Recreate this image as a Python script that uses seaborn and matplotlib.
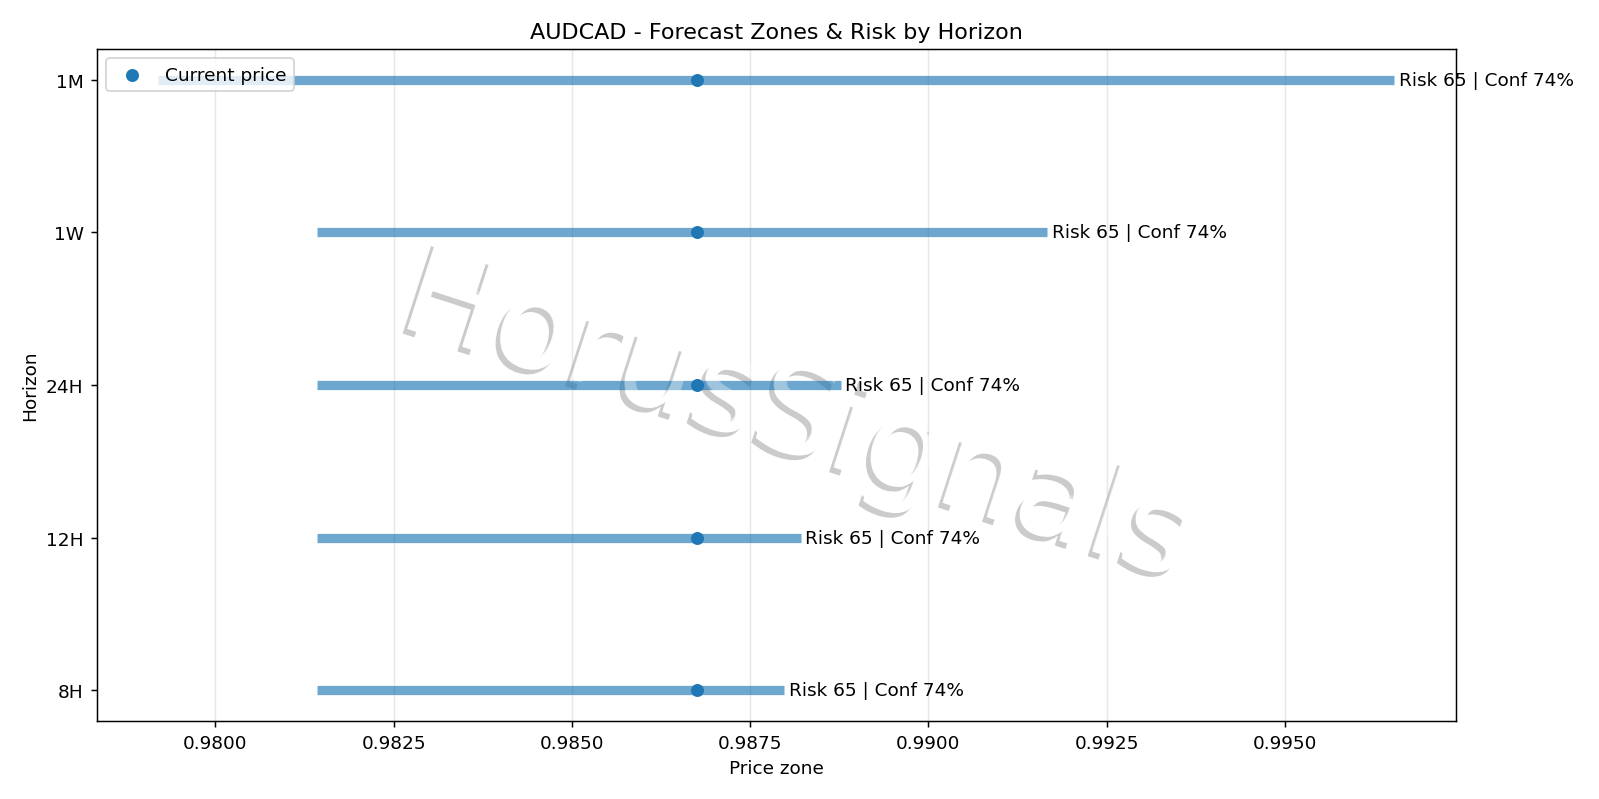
import matplotlib
matplotlib.use("Agg")
import matplotlib.pyplot as plt
import matplotlib.patheffects as pe
import seaborn as sns
import pandas as pd

# ---- data ----
horizons = ["8H", "12H", "24H", "1W", "1M"]
zone_low = [0.98143, 0.98143, 0.98143, 0.98143, 0.97920]
zone_high = [0.98798, 0.98821, 0.98877, 0.99167, 0.99653]
current_price = [0.98675, 0.98675, 0.98675, 0.98675, 0.98675]
risk = [65, 65, 65, 65, 65]
conf = [74, 74, 74, 74, 74]
title = "AUDCAD - Forecast Zones & Risk by Horizon"
watermark = "HorusSignals"

df = pd.DataFrame({
    "horizon": horizons,
    "low": zone_low,
    "high": zone_high,
    "price": current_price,
    "risk": risk,
    "conf": conf,
})

blue = "#1f77b4"

fig, ax = plt.subplots(figsize=(12, 6), dpi=133.333)
fig.subplots_adjust(left=0.0604, right=0.9098, bottom=0.0975, top=0.9375)

# zones
ax.hlines(df["horizon"], df["low"], df["high"], color=blue, alpha=0.65,
          linewidth=5, zorder=2)

# current price dots
sns.scatterplot(data=df, x="price", y="horizon", color=blue, s=36,
                edgecolor=blue, linewidth=1, label="Current price",
                zorder=3, ax=ax)

# keep the first horizon at the bottom
if ax.yaxis_inverted():
    ax.invert_yaxis()

# risk/conf labels
for h, hi, r, c in zip(df["horizon"], df["high"], df["risk"], df["conf"]):
    ax.annotate(f"Risk {r} | Conf {c}%", xy=(hi, h), xytext=(2.5, 0),
                textcoords="offset points", va="center", ha="left",
                fontsize=10)

# watermark
wm_x, wm_y = 0.515, 0.45
wm_size = 68
ax.text(wm_x, wm_y, watermark, transform=ax.transAxes, fontsize=wm_size,
        rotation=-18, ha="center", va="center", color="white", zorder=1.2,
        path_effects=[pe.SimplePatchShadow(offset=(-2.5, -2.5),
                                           shadow_rgbFace="#cbcbcb",
                                           alpha=1.0),
                      pe.Normal()])
ax.text(wm_x, wm_y, watermark, transform=ax.transAxes, fontsize=wm_size,
        rotation=-18, ha="center", va="center", color="white", alpha=0.35,
        zorder=2.5)

ax.grid(axis="x", alpha=0.3)
ax.set_title(title)
ax.set_xlabel("Price zone")
ax.set_ylabel("Horizon")
ax.legend(loc="upper left")

fig.savefig("out.png", dpi=133.333)
